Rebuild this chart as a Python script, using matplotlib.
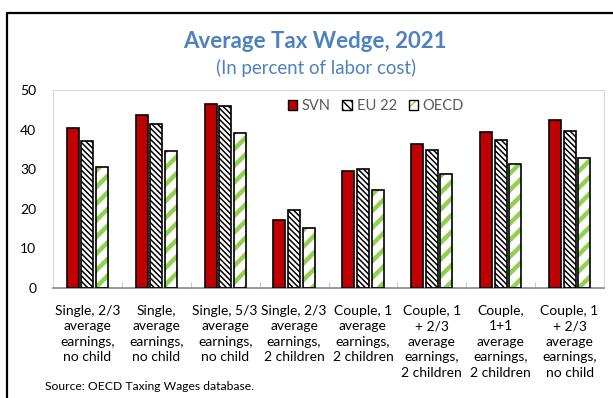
import matplotlib
matplotlib.use("Agg")
import matplotlib.pyplot as plt
import numpy as np
from matplotlib.patches import Patch
from matplotlib.legend_handler import HandlerTuple
from matplotlib.lines import Line2D

plt.rcParams['font.family'] = ['Lato', 'DejaVu Sans']

categories = [
    "Single, 2/3\naverage\nearnings,\nno child",
    "Single,\naverage\nearnings,\nno child",
    "Single, 5/3\naverage\nearnings,\nno child",
    "Single, 2/3\naverage\nearnings,\n2 children",
    "Couple, 1\naverage\nearnings,\n2 children",
    "Couple, 1\n+ 2/3\naverage\nearnings,\n2 children",
    "Couple,\n1+1\naverage\nearnings,\n2 children",
    "Couple, 1\n+ 2/3\naverage\nearnings,\nno child",
]
svn = [40.5, 43.8, 46.5, 17.1, 29.6, 36.4, 39.5, 42.3]
eu22 = [37.1, 41.4, 45.9, 19.8, 30.0, 34.8, 37.4, 39.6]
oecd = [30.6, 34.7, 39.1, 15.2, 24.7, 28.9, 31.2, 32.9]
yticks = [0, 10, 20, 30, 40, 50]

RED = "#C00000"
GREEN = "#92D050"
BLUE = "#4F81BD"

fig = plt.figure(figsize=(6.13, 3.98), dpi=100)
ax = fig.add_axes([53 / 613, 1 - 288 / 398, 551 / 613, 198 / 398])

x = np.arange(len(categories))
w = 0.174
step = 0.212


def hatched(xs, vals, hatch, color, hlw):
    with plt.rc_context({'hatch.linewidth': hlw}):
        bars = ax.bar(xs, vals, w, facecolor="white", edgecolor=color,
                      hatch=hatch, linewidth=0, zorder=2)
    for b in bars:
        if hasattr(b, "set_hatch_linewidth"):
            b.set_hatch_linewidth(hlw)
    ax.bar(xs, vals, w, fill=False, edgecolor="black", linewidth=1.2, zorder=3)


ax.bar(x - step, svn, w, color=RED, edgecolor="black", linewidth=1.2, zorder=3)
hatched(x, eu22, "\\\\\\\\\\\\", "black", 1.1)
hatched(x + step, oecd, "//", GREEN, 3.2)

ax.set_xlim(-0.5, len(categories) - 0.5)
ax.set_ylim(0, 50)
ax.set_yticks(yticks)
ax.tick_params(axis='y', length=0, labelsize=10, pad=12)
ax.set_xticks(x)
ax.set_xticklabels(categories, fontsize=10, linespacing=1.36, va='top')
ax.tick_params(axis='x', which='major', length=0, pad=12)
ax.set_xticks(np.arange(0.5, len(categories) - 0.5), minor=True)
ax.tick_params(axis='x', which='minor', direction='in', length=4, color="#BFBFBF")

for s in ('top', 'right'):
    ax.spines[s].set_color("#D9D9D9")
ax.spines['left'].set_color("#D9D9D9")
ax.spines['bottom'].set_color("#868686")
ax.spines['bottom'].set_linewidth(1.2)

# Legend
with plt.rc_context({'hatch.linewidth': 2.0}):
    h_svn = Patch(facecolor=RED, edgecolor="black", linewidth=1.0)
    h_eu = (Patch(facecolor="white", edgecolor="black", hatch="\\\\\\\\", linewidth=0),
            Patch(fill=False, edgecolor="black", linewidth=1.0))
    h_oe = (Patch(facecolor="white", edgecolor=GREEN, hatch="//", linewidth=0),
            Patch(fill=False, edgecolor="black", linewidth=1.0))
leg = ax.legend([h_svn, h_eu, h_oe], ["SVN", "EU 22", "OECD"],
                handler_map={tuple: HandlerTuple(ndivide=1)},
                loc='upper center', bbox_to_anchor=(0.586, 1.0), ncol=3,
                frameon=False, fontsize=10.5, handlelength=0.68, handleheight=0.68,
                handletextpad=0.3, columnspacing=0.8, borderaxespad=0.2)
for t in leg.get_texts():
    t.set_color("#595959")

fig.text(315 / 613, 1 - 42 / 398, "Average Tax Wedge, 2021", color=BLUE,
         fontsize=16, fontweight='bold', ha='center', va='center')
fig.text(316 / 613, 1 - 68 / 398, "(In percent of labor cost)", color=BLUE,
         fontsize=13.4, ha='center', va='center')
fig.text(45 / 613, 1 - 386 / 398, "Source: OECD Taxing Wages database.",
         fontsize=8.7, ha='left', va='center')

# Outer frame on left and top
fig.add_artist(Line2D([7 / 613, 7 / 613, 1.0], [0.0, 1 - 13 / 398, 1 - 13 / 398],
                      color="black", linewidth=1.6, transform=fig.transFigure))

fig.savefig("out.png", dpi=100)
